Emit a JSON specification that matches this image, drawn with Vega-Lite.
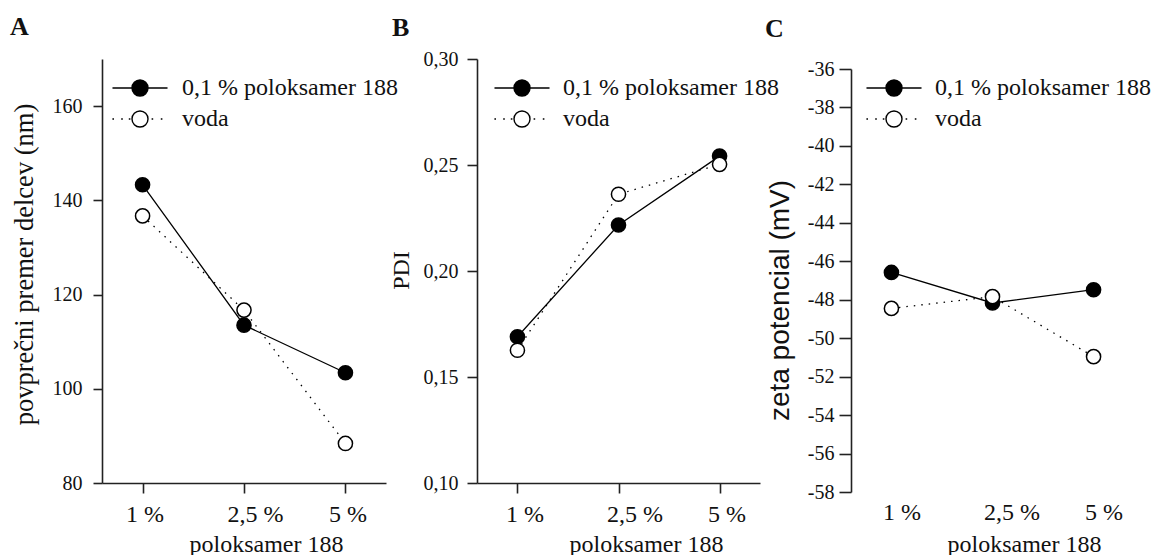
{
  "$schema": "https://vega.github.io/schema/vega-lite/v6.json",
  "background": "white",
  "padding": {"left": 10, "top": 14, "right": 0, "bottom": 0},
  "datasets": {
    "A": [
      {"conc": "1 %", "series": "0,1 % poloksamer 188", "value": 143.3},
      {"conc": "2,5 %", "series": "0,1 % poloksamer 188", "value": 113.5},
      {"conc": "5 %", "series": "0,1 % poloksamer 188", "value": 103.4},
      {"conc": "1 %", "series": "voda", "value": 136.7},
      {"conc": "2,5 %", "series": "voda", "value": 116.7},
      {"conc": "5 %", "series": "voda", "value": 88.4}
    ],
    "B": [
      {"conc": "1 %", "series": "0,1 % poloksamer 188", "value": 0.169},
      {"conc": "2,5 %", "series": "0,1 % poloksamer 188", "value": 0.2217},
      {"conc": "5 %", "series": "0,1 % poloksamer 188", "value": 0.2542},
      {"conc": "1 %", "series": "voda", "value": 0.1626},
      {"conc": "2,5 %", "series": "voda", "value": 0.2362},
      {"conc": "5 %", "series": "voda", "value": 0.2503}
    ],
    "C": [
      {"conc": "1 %", "series": "0,1 % poloksamer 188", "value": -46.58},
      {"conc": "2,5 %", "series": "0,1 % poloksamer 188", "value": -48.17},
      {"conc": "5 %", "series": "0,1 % poloksamer 188", "value": -47.48},
      {"conc": "1 %", "series": "voda", "value": -48.45},
      {"conc": "2,5 %", "series": "voda", "value": -47.84},
      {"conc": "5 %", "series": "voda", "value": -50.96}
    ]
  },
  "hconcat": [
    {
      "width": 284,
      "height": 424,
      "title": {"text": "A", "anchor": "start", "frame": "group", "dx": -92, "dy": -15, "font": "Liberation Serif", "fontSize": 26, "fontWeight": "bold", "color": "#111"},
      "data": {"name": "A"},
      "encoding": {
        "x": {"field": "conc", "type": "ordinal", "sort": ["1 %", "2,5 %", "5 %"], "scale": {"type": "point", "padding": 0.4},
          "axis": {"title": "poloksamer 188", "titleX": 164, "titleY": 68, "titleBaseline": "alphabetic", "labelAlign": "left", "labelOffset": -17, "tickSize": 10, "labelPadding": 9,
            "labelFont": "Liberation Serif", "labelFontSize": 24, "labelColor": "#111", "titleFont": "Liberation Serif", "titleFontSize": 24, "titleFontWeight": "normal", "titleColor": "#111", "domainColor": "#222", "domainWidth": 1.6, "tickColor": "#222", "tickWidth": 1.6, "labelAngle": 0, "grid": false}},
        "y": {"field": "value", "type": "quantitative", "scale": {"domain": [80, 170], "nice": false, "zero": false},
          "axis": {"title": "povprečni premer delcev (nm)", "values": [80, 100, 120, 140, 160], "tickSize": 9, "labelPadding": 11, "titleX": -70, "titleY": 205, "titleBaseline": "alphabetic",
            "labelFont": "Liberation Serif", "labelFontSize": 20, "labelColor": "#111", "titleFont": "Liberation Serif", "titleFontSize": 26.5, "titleFontWeight": "normal", "titleColor": "#111", "domainColor": "#222", "domainWidth": 1.6, "tickColor": "#222", "tickWidth": 1.6, "grid": false}}
      },
      "layer": [
        {"transform": [{"filter": "datum.series === '0,1 % poloksamer 188'"}], "mark": {"type": "line", "color": "black", "strokeWidth": 1.3}, "encoding": {}},
        {"transform": [{"filter": "datum.series === 'voda'"}], "mark": {"type": "line", "color": "black", "strokeWidth": 1.3, "strokeDash": [1.5, 6]}, "encoding": {}},
        {"mark": {"type": "point", "filled": true, "size": 200, "stroke": "black", "strokeWidth": 1.5, "opacity": 1},
          "encoding": {"fill": {"field": "series", "type": "nominal", "scale": {"domain": ["0,1 % poloksamer 188", "voda"], "range": ["black", "white"]}}}},
        {"transform": [{"filter": "false"}],
          "mark": {"type": "point", "filled": true, "size": 256, "stroke": "black", "strokeWidth": 1.4, "opacity": 1},
          "encoding": {
            "fill": {"field": "series", "type": "nominal", "scale": {"domain": ["0,1 % poloksamer 188", "voda"], "range": ["black", "white"]},
              "legend": {"orient": "none", "legendX": 26, "legendY": 17, "title": null, "padding": 0, "labelOffset": 30, "labelFont": "Liberation Serif", "labelFontSize": 24, "labelColor": "#111", "labelLimit": 400, "symbolSize": 256, "symbolStrokeWidth": 1.4, "symbolStrokeColor": "black", "rowPadding": 7}},
            "shape": {"field": "series", "type": "nominal", "scale": {"domain": ["0,1 % poloksamer 188", "voda"], "range": ["M-3.44 0L-1 0M1 0L3.44 0M1 0A1 1 0 1 1 -1 0A1 1 0 1 1 1 0Z", "M-3.45 0L-3.25 0M-2.35 0L-2.15 0M-1.4 0L-1.2 0M1.45 0L1.65 0M2.6 0L2.8 0M1 0A1 1 0 1 1 -1 0A1 1 0 1 1 1 0Z"]},
              "legend": {"orient": "none", "legendX": 26, "legendY": 17, "title": null, "padding": 0, "labelOffset": 30, "labelFont": "Liberation Serif", "labelFontSize": 24, "labelColor": "#111", "labelLimit": 400, "symbolSize": 256, "symbolStrokeWidth": 1.4, "symbolStrokeColor": "black", "rowPadding": 7}}
          }}
      ]
    },
    {
      "width": 283,
      "height": 424,
      "title": {"text": "B", "anchor": "start", "frame": "group", "dx": -85, "dy": -4, "font": "Liberation Serif", "fontSize": 26, "fontWeight": "bold", "color": "#111"},
      "data": {"name": "B"},
      "encoding": {
        "x": {"field": "conc", "type": "ordinal", "sort": ["1 %", "2,5 %", "5 %"], "scale": {"type": "point", "padding": 0.4},
          "axis": {"title": "poloksamer 188", "titleX": 169, "titleY": 68, "titleBaseline": "alphabetic", "labelAlign": "left", "labelOffset": -12, "tickSize": 10, "labelPadding": 9,
            "labelFont": "Liberation Serif", "labelFontSize": 24, "labelColor": "#111", "titleFont": "Liberation Serif", "titleFontSize": 24, "titleFontWeight": "normal", "titleColor": "#111", "domainColor": "#222", "domainWidth": 1.6, "tickColor": "#222", "tickWidth": 1.6, "labelAngle": 0, "grid": false}},
        "y": {"field": "value", "type": "quantitative", "scale": {"domain": [0.1, 0.3], "nice": false, "zero": false},
          "axis": {"title": "PDI", "values": [0.1, 0.15, 0.2, 0.25, 0.3], "labelExpr": "replace(format(datum.value, '.2f'), '.', ',')", "tickSize": 10, "labelPadding": 9, "titleX": -69, "titleY": 211, "titleBaseline": "alphabetic",
            "labelFont": "Liberation Serif", "labelFontSize": 20, "labelColor": "#111", "titleFont": "Liberation Serif", "titleFontSize": 24, "titleFontWeight": "normal", "titleColor": "#111", "domainColor": "#222", "domainWidth": 1.6, "tickColor": "#222", "tickWidth": 1.6, "grid": false}}
      },
      "layer": [
        {"transform": [{"filter": "datum.series === '0,1 % poloksamer 188'"}], "mark": {"type": "line", "color": "black", "strokeWidth": 1.3}, "encoding": {}},
        {"transform": [{"filter": "datum.series === 'voda'"}], "mark": {"type": "line", "color": "black", "strokeWidth": 1.3, "strokeDash": [1.5, 6]}, "encoding": {}},
        {"mark": {"type": "point", "filled": true, "size": 200, "stroke": "black", "strokeWidth": 1.5, "opacity": 1},
          "encoding": {"fill": {"field": "series", "type": "nominal", "scale": {"domain": ["0,1 % poloksamer 188", "voda"], "range": ["black", "white"]}}}},
        {"transform": [{"filter": "false"}],
          "mark": {"type": "point", "filled": true, "size": 256, "stroke": "black", "strokeWidth": 1.4, "opacity": 1},
          "encoding": {
            "fill": {"field": "series", "type": "nominal", "scale": {"domain": ["0,1 % poloksamer 188", "voda"], "range": ["black", "white"]},
              "legend": {"orient": "none", "legendX": 33, "legendY": 17, "title": null, "padding": 0, "labelOffset": 29, "labelFont": "Liberation Serif", "labelFontSize": 24, "labelColor": "#111", "labelLimit": 400, "symbolSize": 256, "symbolStrokeWidth": 1.4, "symbolStrokeColor": "black", "rowPadding": 7}},
            "shape": {"field": "series", "type": "nominal", "scale": {"domain": ["0,1 % poloksamer 188", "voda"], "range": ["M-3.44 0L-1 0M1 0L3.44 0M1 0A1 1 0 1 1 -1 0A1 1 0 1 1 1 0Z", "M-3.45 0L-3.25 0M-2.35 0L-2.15 0M-1.4 0L-1.2 0M1.45 0L1.65 0M2.6 0L2.8 0M1 0A1 1 0 1 1 -1 0A1 1 0 1 1 1 0Z"]},
              "legend": {"orient": "none", "legendX": 33, "legendY": 17, "title": null, "padding": 0, "labelOffset": 29, "labelFont": "Liberation Serif", "labelFontSize": 24, "labelColor": "#111", "labelLimit": 400, "symbolSize": 256, "symbolStrokeWidth": 1.4, "symbolStrokeColor": "black", "rowPadding": 7}}
          }}
      ]
    },
    {
      "width": 283,
      "height": 433,
      "title": {"text": "C", "anchor": "start", "frame": "group", "dx": -86, "dy": -13, "font": "Liberation Serif", "fontSize": 26, "fontWeight": "bold", "color": "#111"},
      "data": {"name": "C"},
      "encoding": {
        "x": {"field": "conc", "type": "ordinal", "sort": ["1 %", "2,5 %", "5 %"], "scale": {"type": "point", "padding": 0.4},
          "axis": {"title": "poloksamer 188", "titleX": 173, "titleY": 59, "titleBaseline": "alphabetic", "labelAlign": "left", "labelOffset": -9, "domain": false, "ticks": false, "tickSize": 0, "labelPadding": 8,
            "labelFont": "Liberation Serif", "labelFontSize": 24, "labelColor": "#111", "titleFont": "Liberation Serif", "titleFontSize": 24, "titleFontWeight": "normal", "titleColor": "#111", "labelAngle": 0, "grid": false}},
        "y": {"field": "value", "type": "quantitative", "scale": {"domain": [-58, -36], "nice": false, "zero": false, "range": [433, 10]},
          "axis": {"title": "zeta potencial (mV)", "values": [-58, -56, -54, -52, -50, -48, -46, -44, -42, -40, -38, -36], "labelExpr": "toString(datum.value)", "tickSize": 12, "labelPadding": 5, "titleX": -63, "titleY": 241, "titleBaseline": "alphabetic",
            "labelFont": "Liberation Serif", "labelFontSize": 20, "labelColor": "#111", "titleFont": "Liberation Sans", "titleFontSize": 28, "titleFontWeight": "normal", "titleColor": "#111", "domainColor": "#222", "domainWidth": 1.6, "tickColor": "#222", "tickWidth": 1.6, "grid": false}}
      },
      "layer": [
        {"transform": [{"filter": "datum.series === '0,1 % poloksamer 188'"}], "mark": {"type": "line", "color": "black", "strokeWidth": 1.3}, "encoding": {}},
        {"transform": [{"filter": "datum.series === 'voda'"}], "mark": {"type": "line", "color": "black", "strokeWidth": 1.3, "strokeDash": [1.5, 6]}, "encoding": {}},
        {"mark": {"type": "point", "filled": true, "size": 200, "stroke": "black", "strokeWidth": 1.5, "opacity": 1},
          "encoding": {"fill": {"field": "series", "type": "nominal", "scale": {"domain": ["0,1 % poloksamer 188", "voda"], "range": ["black", "white"]}}}},
        {"transform": [{"filter": "false"}],
          "mark": {"type": "point", "filled": true, "size": 256, "stroke": "black", "strokeWidth": 1.4, "opacity": 1},
          "encoding": {
            "fill": {"field": "series", "type": "nominal", "scale": {"domain": ["0,1 % poloksamer 188", "voda"], "range": ["black", "white"]},
              "legend": {"orient": "none", "legendX": 31, "legendY": 17, "title": null, "padding": 0, "labelOffset": 29, "labelFont": "Liberation Serif", "labelFontSize": 24, "labelColor": "#111", "labelLimit": 400, "symbolSize": 256, "symbolStrokeWidth": 1.4, "symbolStrokeColor": "black", "rowPadding": 7}},
            "shape": {"field": "series", "type": "nominal", "scale": {"domain": ["0,1 % poloksamer 188", "voda"], "range": ["M-3.44 0L-1 0M1 0L3.44 0M1 0A1 1 0 1 1 -1 0A1 1 0 1 1 1 0Z", "M-3.45 0L-3.25 0M-2.35 0L-2.15 0M-1.4 0L-1.2 0M1.45 0L1.65 0M2.6 0L2.8 0M1 0A1 1 0 1 1 -1 0A1 1 0 1 1 1 0Z"]},
              "legend": {"orient": "none", "legendX": 31, "legendY": 17, "title": null, "padding": 0, "labelOffset": 29, "labelFont": "Liberation Serif", "labelFontSize": 24, "labelColor": "#111", "labelLimit": 400, "symbolSize": 256, "symbolStrokeWidth": 1.4, "symbolStrokeColor": "black", "rowPadding": 7}}
          }}
      ]
    }
  ],
  "spacing": 91,
  "bounds": "flush",
  "resolve": {"scale": {"fill": "independent", "shape": "independent"}, "legend": {"fill": "independent", "shape": "independent"}},
  "config": {
    "view": {"stroke": null}
  }
}
